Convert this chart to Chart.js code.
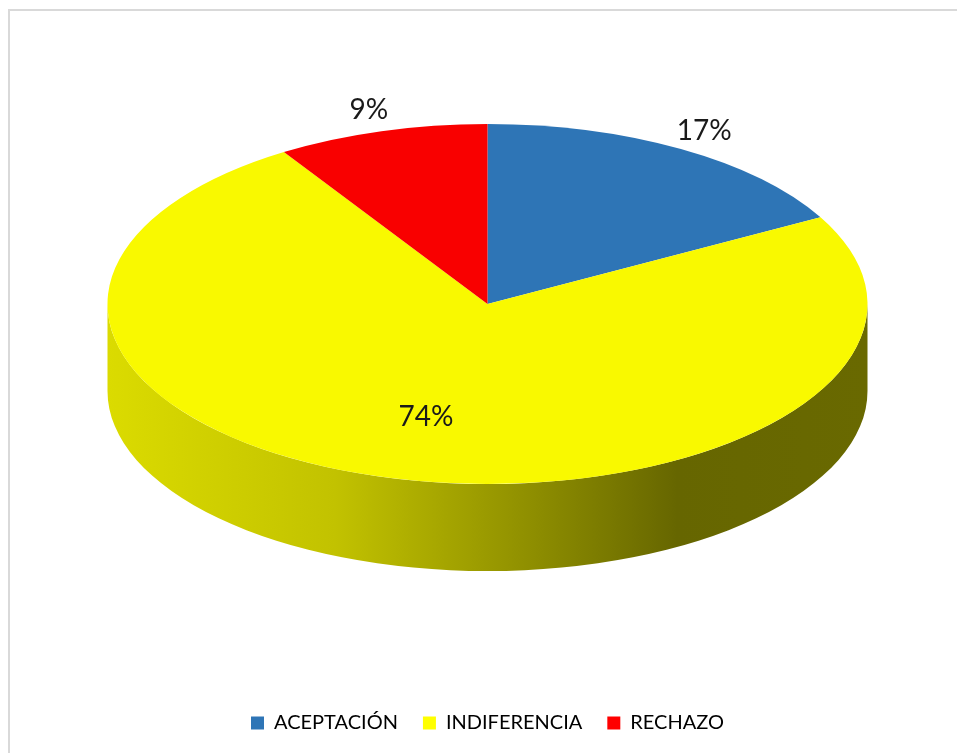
<!DOCTYPE html>
<html>
<head>
<meta charset="utf-8">
<script src="https://cdn.jsdelivr.net/npm/chart.js@4.4.1/dist/chart.umd.min.js"></script>
<style>
    body { margin: 0; background: #fff; overflow: hidden; }
    #frame {
        position: absolute; left: 8px; top: 9px;
        width: 1000px; height: 800px;
        border: 2px solid #d9d9d9;
    }
    #wrap { position: absolute; left: 0; top: 0; width: 957px; height: 753px; }
</style>
</head>
<body>
<div id="frame"></div>
<div id="wrap"><canvas id="pieChart"></canvas></div>
<script>
const categories = ['ACEPTACIÓN', 'INDIFERENCIA', 'RECHAZO'];
const percentValues = [17, 74, 9];
const sliceColors = ['#2e75b6', '#f9f900', '#f90000'];
const legendColors = ['#2e75b6', '#ffff00', '#ff0000'];

Chart.defaults.font.family = "Lato, 'Liberation Sans', sans-serif";
Chart.defaults.color = '#1a1a1a';

// ellipse the round pie is squashed into, plus height of the side wall
const pieShape = { cy: 304, rx: 380, ry: 180, depth: 87 };

function shade(hex, f) {
    const n = parseInt(hex.slice(1), 16);
    const r = Math.round(((n >> 16) & 255) * f);
    const g = Math.round(((n >> 8) & 255) * f);
    const b = Math.round((n & 255) * f);
    return `rgb(${r}, ${g}, ${b})`;
}

const pie3d = {
    id: 'pie3d',
    beforeDatasetsDraw(chart) {
        const ctx = chart.ctx;
        const arcs = chart.getDatasetMeta(0).data;
        const cx = (chart.chartArea.left + chart.chartArea.right) / 2;
        const { cy, rx, ry, depth } = pieShape;

        // side wall, only the front half is visible
        arcs.forEach((arc, i) => {
            const a = Math.max(arc.startAngle, 0);
            const b = Math.min(arc.endAngle, Math.PI);
            if (b <= a) return;
            const col = sliceColors[i];
            const grad = ctx.createLinearGradient(cx - rx, 0, cx + rx, 0);
            grad.addColorStop(0, shade(col, 0.88));
            grad.addColorStop(0.3, shade(col, 0.78));
            grad.addColorStop(0.55, shade(col, 0.58));
            grad.addColorStop(0.75, shade(col, 0.41));
            grad.addColorStop(1, shade(col, 0.42));
            ctx.save();
            ctx.beginPath();
            ctx.ellipse(cx, cy, rx, ry, 0, a, b);
            ctx.lineTo(cx + rx * Math.cos(b), cy + depth + ry * Math.sin(b));
            ctx.ellipse(cx, cy + depth, rx, ry, 0, b, a, true);
            ctx.closePath();
            ctx.fillStyle = grad;
            ctx.fill();
            ctx.restore();
        });

        // squash the chart's own arcs into the ellipse
        const ref = arcs[0];
        ctx.save();
        ctx.translate(cx, cy);
        ctx.scale(rx / ref.outerRadius, ry / ref.outerRadius);
        ctx.translate(-ref.x, -ref.y);
    },
    afterDatasetsDraw(chart) {
        chart.ctx.restore();
    },
    afterDraw(chart) {
        const ctx = chart.ctx;
        const arcs = chart.getDatasetMeta(0).data;
        const cx = (chart.chartArea.left + chart.chartArea.right) / 2;
        const { cy, rx, ry } = pieShape;
        ctx.save();
        ctx.font = "28px Lato, 'Liberation Sans', sans-serif";
        ctx.fillStyle = '#1a1a1a';
        ctx.textAlign = 'center';
        ctx.textBaseline = 'middle';
        arcs.forEach((arc, i) => {
            const mid = (arc.startAngle + arc.endAngle) / 2;
            const k = percentValues[i] < 20 ? 1.12 : 0.65;
            const x = cx + rx * k * Math.cos(mid);
            const y = cy + ry * k * Math.sin(mid);
            ctx.fillText(percentValues[i] + '%', x, y);
        });
        ctx.restore();
    }
};

const ctx = document.getElementById('pieChart').getContext('2d');
const pieChart = new Chart(ctx, {
    type: 'pie',
    data: {
        labels: categories,
        datasets: [{
            data: percentValues,
            backgroundColor: sliceColors,
            borderWidth: 0
        }]
    },
    options: {
        responsive: true,
        maintainAspectRatio: false,
        animation: false,
        layout: { padding: { left: 18, top: 20, bottom: 10 } },
        plugins: {
            legend: {
                position: 'bottom',
                labels: {
                    boxWidth: 13,
                    boxHeight: 13,
                    padding: 25,
                    font: { size: 20 },
                    generateLabels(chart) {
                        return categories.map((c, i) => ({
                            text: c,
                            fillStyle: legendColors[i],
                            strokeStyle: legendColors[i],
                            lineWidth: 0,
                            index: i
                        }));
                    }
                }
            },
            tooltip: { enabled: false }
        }
    },
    plugins: [pie3d]
});
</script>
</body>
</html>
